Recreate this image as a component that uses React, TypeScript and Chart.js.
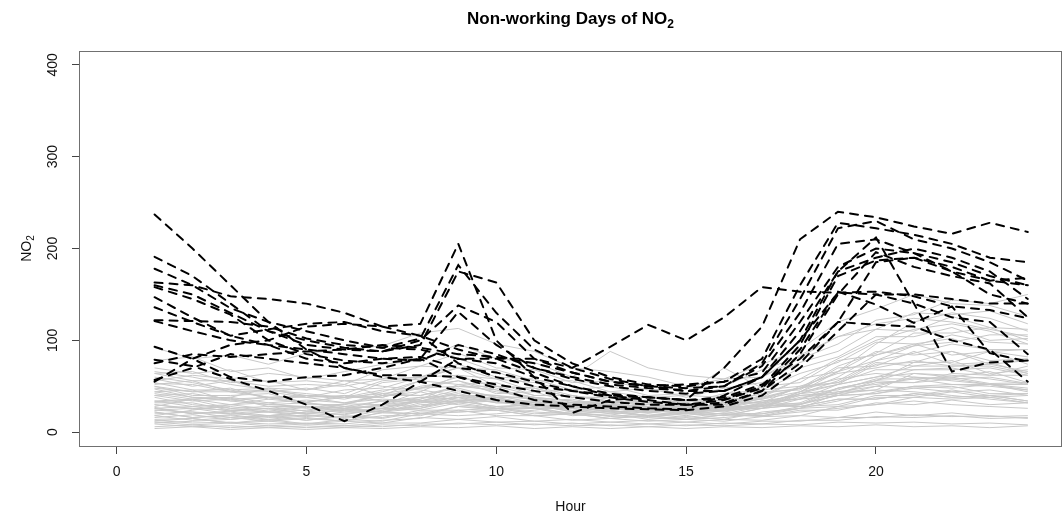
import React, { useEffect, useRef } from "react";
import { Chart, registerables } from "chart.js";

Chart.register(...registerables);

const hours = [1, 2, 3, 4, 5, 6, 7, 8, 9, 10, 11, 12, 13, 14, 15, 16, 17, 18, 19, 20, 21, 22, 23, 24];
const xTickValues = [0, 5, 10, 15, 20];
const yTickValues = [0, 100, 200, 300, 400];
const chartTitleMain = "Non-working Days of NO";
const chartTitleSub = "2";
const xTitle = "Hour";
const yTitleMain = "NO";
const yTitleSub = "2";

// Non-working days (black dashed)
const k01 = [237, 200, 160, 120, 90, 70, 62, 62, 60, 52, 45, 38, 33, 30, 30, 32, 45, 75, 120, 117, 115, 100, 90, 55];
const k02 = [191, 170, 140, 110, 100, 92, 88, 95, 175, 163, 100, 75, 60, 52, 50, 55, 80, 160, 228, 222, 215, 205, 190, 185];
const k03 = [178, 160, 135, 120, 110, 100, 92, 102, 182, 130, 90, 70, 58, 50, 48, 50, 75, 145, 222, 230, 210, 200, 185, 165];
const k04 = [163, 160, 148, 145, 140, 130, 115, 118, 205, 100, 60, 21, 35, 38, 35, 70, 115, 210, 240, 234, 224, 216, 228, 218];
const k05 = [160, 150, 130, 110, 95, 90, 88, 100, 138, 120, 80, 65, 55, 50, 52, 55, 65, 120, 180, 200, 195, 185, 170, 160];
const k06 = [158, 145, 128, 100, 85, 78, 75, 80, 131, 95, 70, 58, 50, 45, 42, 45, 60, 100, 175, 190, 200, 190, 175, 145];
const k07 = [147, 125, 105, 95, 90, 85, 80, 78, 95, 85, 70, 60, 52, 48, 45, 50, 72, 130, 205, 210, 195, 175, 150, 140];
const k08 = [136, 120, 105, 112, 118, 120, 110, 105, 75, 60, 50, 45, 40, 38, 35, 36, 50, 95, 170, 187, 190, 180, 165, 160];
const k09 = [122, 121, 120, 115, 102, 95, 92, 90, 80, 80, 80, 70, 93, 117, 100, 125, 158, 153, 152, 153, 148, 137, 133, 124];
const k10 = [121, 110, 100, 95, 80, 75, 80, 82, 70, 65, 55, 45, 38, 33, 30, 30, 45, 85, 150, 196, 180, 170, 162, 125];
const k11 = [93, 80, 60, 55, 60, 62, 70, 80, 60, 48, 35, 30, 28, 26, 25, 40, 60, 110, 175, 212, 140, 66, 76, 78];
const k12 = [79, 72, 58, 45, 30, 12, 30, 55, 80, 75, 60, 50, 40, 35, 30, 35, 48, 90, 153, 139, 119, 137, 86, 77];
const k13 = [75, 85, 82, 85, 88, 90, 95, 92, 85, 82, 75, 65, 55, 50, 45, 45, 60, 100, 152, 150, 140, 125, 120, 85];
const k14 = [57, 70, 85, 80, 75, 70, 60, 55, 45, 35, 30, 28, 26, 25, 24, 28, 40, 70, 110, 150, 150, 145, 140, 140];
const k15 = [55, 80, 95, 100, 115, 118, 115, 105, 90, 80, 65, 50, 42, 38, 35, 38, 52, 80, 120, 185, 190, 175, 165, 168];

// Other days (light grey)
const g01 = [92, 80, 84, 74, 86, 90, 94, 108, 113, 96, 88, 70, 66, 60, 50, 58, 60, 80, 96, 122, 128, 144, 140, 150];
const g02 = [78, 82, 66, 70, 58, 66, 74, 78, 96, 80, 76, 60, 88, 70, 62, 58, 74, 90, 120, 134, 150, 140, 138, 126];
const g03 = [70, 64, 68, 54, 56, 52, 68, 72, 86, 70, 68, 54, 56, 46, 48, 50, 68, 82, 104, 112, 130, 128, 132, 118];
const g04 = [64, 66, 54, 56, 46, 56, 58, 72, 70, 68, 56, 56, 44, 48, 38, 48, 54, 76, 88, 112, 110, 126, 114, 112];
const g05 = [58, 50, 56, 44, 48, 42, 56, 60, 74, 60, 58, 46, 50, 40, 42, 70, 48, 70, 82, 104, 104, 114, 100, 102];
const g06 = [60, 54, 46, 48, 38, 46, 48, 60, 62, 58, 44, 46, 38, 38, 32, 42, 46, 64, 76, 98, 96, 102, 88, 90];
const g07 = [52, 56, 44, 46, 42, 38, 54, 58, 70, 50, 48, 38, 38, 32, 34, 34, 50, 54, 78, 84, 96, 84, 88, 74];
const g08 = [48, 44, 48, 36, 40, 36, 44, 56, 52, 54, 40, 40, 32, 34, 28, 36, 38, 58, 66, 88, 84, 88, 74, 78];
const g09 = [50, 40, 40, 42, 32, 40, 38, 50, 56, 42, 44, 32, 34, 28, 30, 28, 44, 46, 70, 72, 88, 74, 76, 64];
const g10 = [44, 46, 34, 38, 30, 30, 42, 40, 50, 46, 34, 36, 28, 30, 24, 32, 32, 50, 54, 76, 72, 78, 64, 68];
const g11 = [28, 36, 38, 48, 46, 52, 40, 44, 34, 38, 28, 30, 24, 27, 22, 28, 28, 40, 42, 56, 54, 64, 62, 72];
const g12 = [22, 16, 18, 13, 16, 12, 22, 26, 38, 26, 26, 18, 20, 14, 17, 14, 22, 26, 42, 46, 64, 60, 66, 54];
const g13 = [14, 15, 10, 12, 9, 12, 10, 16, 14, 17, 12, 14, 11, 13, 11, 14, 13, 18, 16, 22, 18, 21, 17, 18];
const g14 = [9, 6, 7, 5, 7, 5, 8, 7, 10, 8, 9, 7, 8, 6, 8, 7, 9, 8, 11, 10, 11, 9, 10, 8];
const g15 = [4, 6, 3, 5, 3, 5, 4, 6, 5, 7, 4, 6, 4, 6, 4, 6, 5, 7, 6, 8, 6, 7, 5, 7];
const g16 = [27, 20, 22, 16, 19, 16, 24, 28, 40, 32, 30, 22, 24, 18, 21, 18, 26, 30, 48, 56, 76, 76, 88, 82];
const g17 = [33, 35, 26, 28, 23, 28, 26, 34, 34, 36, 28, 30, 24, 26, 22, 28, 28, 42, 52, 74, 76, 88, 78, 80];
const g18 = [42, 36, 38, 32, 35, 32, 40, 40, 48, 38, 37, 28, 30, 24, 27, 26, 37, 48, 72, 86, 108, 108, 114, 100];
const g19 = [26, 28, 23, 26, 20, 25, 24, 34, 38, 38, 30, 32, 32, 32, 26, 32, 32, 42, 46, 58, 58, 60, 53, 54];
const g20 = [13, 10, 11, 9, 10, 9, 13, 15, 24, 18, 18, 13, 15, 12, 14, 12, 17, 18, 28, 30, 38, 36, 38, 32];
const g21 = [20, 22, 16, 18, 13, 17, 15, 22, 22, 24, 18, 20, 15, 18, 14, 19, 17, 24, 24, 32, 30, 35, 30, 32];
const g22 = [47, 38, 37, 28, 28, 22, 26, 24, 32, 26, 27, 20, 22, 17, 20, 18, 26, 30, 44, 50, 60, 58, 60, 53];
const g23 = [16, 19, 14, 17, 13, 18, 16, 24, 24, 26, 20, 22, 17, 20, 16, 21, 20, 28, 30, 40, 40, 46, 40, 42];
const g24 = [11, 8, 10, 7, 9, 7, 10, 10, 14, 11, 12, 9, 11, 9, 11, 9, 12, 12, 16, 16, 19, 17, 18, 15];
const g25 = [34, 28, 30, 25, 28, 26, 34, 36, 46, 38, 38, 30, 32, 26, 29, 26, 34, 36, 48, 52, 58, 52, 52, 44];
const g26 = [53, 52, 44, 44, 38, 40, 34, 38, 36, 36, 28, 28, 22, 24, 20, 26, 26, 36, 40, 50, 48, 50, 42, 42];
const g27 = [24, 26, 20, 22, 17, 22, 22, 32, 34, 34, 26, 28, 22, 24, 20, 26, 28, 44, 60, 84, 94, 106, 98, 96];
const g28 = [40, 34, 36, 30, 32, 28, 34, 32, 38, 32, 34, 28, 30, 25, 28, 25, 31, 31, 40, 42, 50, 48, 52, 46];
const g29 = [12, 15, 10, 14, 9, 14, 12, 20, 22, 24, 18, 20, 15, 18, 14, 19, 18, 26, 28, 38, 38, 44, 38, 40];
const g30 = [64, 56, 56, 50, 52, 50, 58, 60, 70, 58, 54, 44, 44, 38, 40, 38, 46, 50, 64, 70, 78, 72, 72, 64];
const g31 = [26, 20, 23, 18, 22, 19, 26, 26, 34, 28, 29, 23, 26, 21, 25, 22, 29, 30, 40, 42, 48, 44, 46, 40];
const g32 = [40, 42, 36, 38, 33, 38, 38, 48, 50, 50, 40, 40, 33, 35, 30, 36, 36, 48, 54, 68, 68, 70, 62, 62];
const g33 = [18, 13, 16, 12, 15, 12, 18, 18, 28, 24, 26, 20, 23, 18, 22, 20, 28, 32, 48, 56, 68, 68, 70, 62];
const g34 = [32, 32, 24, 26, 20, 24, 22, 30, 32, 34, 26, 26, 20, 22, 18, 24, 26, 42, 56, 78, 86, 96, 90, 90];
const g35 = [22, 16, 19, 14, 18, 15, 21, 20, 28, 26, 32, 30, 38, 32, 32, 26, 30, 28, 36, 36, 42, 38, 40, 34];
const g36 = [6, 8, 5, 7, 5, 7, 6, 9, 9, 11, 8, 10, 7, 9, 7, 10, 9, 13, 13, 17, 16, 18, 15, 16];
const g37 = [50, 44, 44, 38, 40, 38, 46, 48, 60, 50, 48, 38, 38, 32, 34, 32, 42, 48, 66, 78, 94, 98, 106, 106];
const g38 = [34, 36, 30, 32, 26, 31, 30, 38, 40, 40, 32, 32, 26, 28, 23, 28, 28, 38, 42, 54, 54, 58, 52, 52];
const g39 = [30, 25, 28, 23, 27, 24, 30, 28, 34, 28, 30, 24, 27, 22, 26, 23, 29, 28, 36, 36, 42, 38, 40, 34];
const g40 = [54, 46, 46, 38, 38, 32, 36, 34, 42, 34, 34, 26, 28, 22, 26, 24, 32, 36, 52, 60, 72, 72, 74, 66];
const g41 = [38, 30, 26, 22, 20, 24, 30, 44, 62, 48, 36, 30, 26, 24, 22, 24, 30, 44, 66, 96, 120, 130, 124, 110];
const g42 = [66, 60, 52, 46, 40, 38, 42, 48, 56, 46, 38, 34, 30, 28, 26, 30, 40, 58, 80, 100, 112, 118, 110, 96];
const g43 = [18, 24, 30, 36, 32, 26, 22, 20, 18, 20, 24, 28, 30, 26, 22, 20, 18, 22, 26, 30, 34, 30, 28, 26];
const g44 = [56, 62, 58, 64, 60, 56, 50, 46, 40, 36, 32, 30, 28, 26, 26, 30, 38, 48, 58, 64, 60, 56, 52, 48];
const g45 = [30, 26, 24, 22, 24, 30, 40, 56, 80, 66, 50, 40, 34, 30, 28, 30, 36, 44, 52, 60, 64, 62, 58, 52];
const g46 = [10, 12, 14, 18, 22, 26, 30, 34, 30, 26, 22, 20, 18, 16, 14, 16, 20, 26, 34, 44, 50, 52, 50, 46];
const g47 = [44, 38, 34, 30, 28, 26, 28, 34, 44, 40, 36, 32, 30, 28, 30, 40, 60, 84, 104, 118, 124, 120, 112, 104];
const g48 = [24, 22, 20, 18, 18, 20, 26, 36, 52, 44, 38, 34, 30, 28, 26, 28, 34, 40, 44, 46, 44, 40, 36, 32];

const blackLines = [k01, k02, k03, k04, k05, k06, k07, k08, k09, k10, k11, k12, k13, k14, k15];
const greyLines = [g01, g02, g03, g04, g05, g06, g07, g08, g09, g10, g11, g12, g13, g14, g15, g16, g17, g18, g19, g20,
  g21, g22, g23, g24, g25, g26, g27, g28, g29, g30, g31, g32, g33, g34, g35, g36, g37, g38, g39, g40,
  g41, g42, g43, g44, g45, g46, g47, g48];

const FONT = "'Liberation Sans', Arial, Helvetica, sans-serif";

function drawSubText(ctx: any, main: string, sub: string, cx: number, cy: number, size: number, bold: boolean) {
  const w = bold ? "bold " : "";
  const mainFont = `${w}${size}px ${FONT}`;
  const subSize = Math.round(size * 0.72);
  const subFont = `${w}${subSize}px ${FONT}`;
  ctx.font = mainFont;
  const mw = ctx.measureText(main).width;
  ctx.font = subFont;
  const sw = ctx.measureText(sub).width;
  const left = cx - (mw + sw) / 2;
  ctx.textAlign = "left";
  ctx.textBaseline = "alphabetic";
  const base = cy + size * 0.36;
  ctx.font = mainFont;
  ctx.fillText(main, left, base);
  ctx.font = subFont;
  ctx.fillText(sub, left + mw, base + size * 0.2);
}

const decoPlugin = {
  id: "deco",
  afterDraw(chart: any) {
    const { ctx, chartArea: a, scales } = chart;
    ctx.save();
    // box
    ctx.strokeStyle = "#707070";
    ctx.lineWidth = 1;
    ctx.strokeRect(a.left + 0.5, a.top + 0.5, a.right - a.left - 1, a.bottom - a.top);
    // y tick labels (rotated, parallel to axis)
    ctx.fillStyle = "#111";
    ctx.font = `14px ${FONT}`;
    ctx.textAlign = "center";
    ctx.textBaseline = "middle";
    for (const v of yTickValues) {
      const y = scales.y.getPixelForValue(v);
      ctx.save();
      ctx.translate(53, y);
      ctx.rotate(-Math.PI / 2);
      ctx.fillText(String(v), 0, 0);
      ctx.restore();
    }
    // axis titles
    const cx = (a.left + a.right) / 2;
    const cy = (a.top + a.bottom) / 2;
    ctx.fillText(xTitle, cx, 507);
    ctx.save();
    ctx.translate(26, cy);
    ctx.rotate(-Math.PI / 2);
    drawSubText(ctx, yTitleMain, yTitleSub, 0, 0, 14, false);
    ctx.restore();
    // main title
    ctx.fillStyle = "#000";
    drawSubText(ctx, chartTitleMain, chartTitleSub, cx, 18, 17, true);
    ctx.restore();
  },
};

export default function App() {
  const ref = useRef<HTMLCanvasElement | null>(null);
  useEffect(() => {
    if (!ref.current) return;
    const greyDs = greyLines.map((s) => ({
      data: s.map((v, i) => ({ x: hours[i], y: v })),
      borderColor: "#c8c8c8",
      borderWidth: 1,
      pointRadius: 0,
      tension: 0,
      order: 1,
    }));
    const blackDs = blackLines.map((s) => ({
      data: s.map((v, i) => ({ x: hours[i], y: v })),
      borderColor: "#000",
      borderWidth: 2,
      borderDash: [8, 7],
      borderCapStyle: "round" as const,
      pointRadius: 0,
      tension: 0,
      order: 0,
    }));
    const chart = new Chart(ref.current, {
      type: "line",
      data: { datasets: [...blackDs, ...greyDs] as any },
      plugins: [decoPlugin],
      options: {
        animation: false,
        responsive: false,
        devicePixelRatio: 1,
        layout: { padding: { top: 51, right: 1, left: 0, bottom: 0 } },
        plugins: { legend: { display: false }, tooltip: { enabled: false }, title: { display: false } },
        scales: {
          x: {
            type: "linear",
            min: -0.99,
            max: 24.9,
            afterBuildTicks: (s: any) => {
              s.ticks = xTickValues.map((v) => ({ value: v }));
            },
            afterFit: (s: any) => {
              s.height = 72;
            },
            grid: { drawOnChartArea: false, drawTicks: true, tickLength: 8, tickColor: "#444", tickWidth: 1 },
            border: { display: false },
            ticks: { font: { family: FONT, size: 14 }, color: "#111", padding: 10, maxRotation: 0, autoSkip: false },
          },
          y: {
            type: "linear",
            min: -15,
            max: 415,
            afterBuildTicks: (s: any) => {
              s.ticks = yTickValues.map((v) => ({ value: v }));
            },
            afterFit: (s: any) => {
              s.width = 79;
            },
            grid: { drawOnChartArea: false, drawTicks: true, tickLength: 7, tickColor: "#444", tickWidth: 1 },
            border: { display: false },
            ticks: { display: false },
          },
        },
      },
    });
    return () => chart.destroy();
  }, []);
  return (
    <div style={{ position: "absolute", left: 0, top: 0, width: 1063, height: 518, background: "#fff" }}>
      <canvas ref={ref} width={1063} height={518} style={{ display: "block" }} />
    </div>
  );
}
